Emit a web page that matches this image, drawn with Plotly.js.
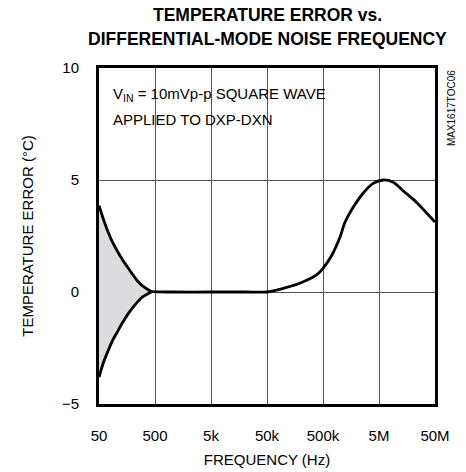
<!DOCTYPE html>
<html>
<head>
<meta charset="utf-8">
<script src="https://cdn.plot.ly/plotly-3.0.1.min.js"></script>
<style>html,body{margin:0;padding:0;background:#fff;}#chart{width:466px;height:472px;}</style>
</head>
<body>
<div id="chart"></div>
<script>
// Left region: error band at low frequency
var freqLeft = [50, 60, 72, 88, 108, 133, 163, 200, 246, 300, 372, 428];
var upperLeft = [3.85, 3.25, 2.7, 2.2, 1.8, 1.42, 1.1, 0.78, 0.48, 0.27, 0.11, 0.02];
var lowerLeft = [-3.8, -3.15, -2.65, -2.15, -1.75, -1.35, -1.0, -0.7, -0.43, -0.22, -0.08, 0.0];
// Right region: single curve
var freqRight = [1000, 5000, 20000, 50000, 84500, 192000, 383000, 500000, 710000, 1000000, 1230000, 1730000, 2600000, 3930000, 5940000, 8970000, 13600000, 23500000, 50000000];
var curveRight = [0, 0, 0, 0.0, 0.12, 0.39, 0.76, 1.06, 1.62, 2.43, 3.1, 3.78, 4.41, 4.85, 5.0, 4.9, 4.51, 4.0, 3.12];
var tickVals = [50, 500, 5000, 50000, 500000, 5000000, 50000000];
var tickText = ['50', '500', '5k', '50k', '500k', '5M', '50M'];
var yTicks = [-5, 0, 5, 10];
var titleLines = ['TEMPERATURE ERROR vs.', 'DIFFERENTIAL-MODE NOISE FREQUENCY'];

var font = 'Arial, "Liberation Sans", sans-serif';

var traces = [
  {x: freqLeft, y: lowerLeft, mode: 'lines', line: {color: '#000', width: 2.8, shape: 'spline', smoothing: 0.8}, hoverinfo: 'skip'},
  {x: freqLeft, y: upperLeft, mode: 'lines', fill: 'tonexty', fillcolor: '#dcdcde', line: {color: '#000', width: 2.8, shape: 'spline', smoothing: 0.8}, hoverinfo: 'skip'},
  {x: [freqLeft[freqLeft.length - 1]].concat(freqRight), y: [upperLeft[upperLeft.length - 1]].concat(curveRight), mode: 'lines', line: {color: '#000', width: 2.8, shape: 'spline', smoothing: 0.8}, hoverinfo: 'skip'}
];

var layout = {
  width: 466, height: 472,
  margin: {l: 99, r: 31, t: 68, b: 68},
  paper_bgcolor: '#fff', plot_bgcolor: '#fff',
  showlegend: false,
  font: {family: font, size: 15, color: '#000'},
  xaxis: {
    type: 'log',
    range: [Math.log10(50), Math.log10(50000000)],
    tickvals: tickVals, ticktext: tickText,
    ticks: '', ticklabelstandoff: 16,
    showgrid: true, gridcolor: '#555', gridwidth: 1,
    showline: true, mirror: true, linecolor: '#000', linewidth: 3,
    zeroline: false,
    tickfont: {family: font, size: 15, color: '#000'},
    title: {text: 'FREQUENCY (Hz)', font: {family: font, size: 15, color: '#000'}, standoff: 12}
  },
  yaxis: {
    range: [-5, 10],
    tickvals: yTicks,
    ticks: '', ticklabelstandoff: 14,
    showgrid: true, gridcolor: '#555', gridwidth: 1,
    showline: true, mirror: true, linecolor: '#000', linewidth: 3,
    zeroline: false,
    tickfont: {family: font, size: 15, color: '#000'},
    title: {text: 'TEMPERATURE ERROR (°C)', font: {family: font, size: 15, color: '#000'}, standoff: 25}
  },
  annotations: [
    {text: '<b>' + titleLines[0] + '</b>', xref: 'paper', yref: 'paper', x: 0.5, y: 1.158, xanchor: 'center', yanchor: 'middle', showarrow: false, font: {family: font, size: 17.5, color: '#000'}},
    {text: '<b>' + titleLines[1] + '</b>', xref: 'paper', yref: 'paper', x: 0.5, y: 1.086, xanchor: 'center', yanchor: 'middle', showarrow: false, font: {family: font, size: 17.5, color: '#000'}},
    {text: 'V<sub>IN</sub> = 10mVp-p SQUARE WAVE', xref: 'paper', yref: 'paper', x: 0.037, y: 0.92, xanchor: 'left', yanchor: 'middle', showarrow: false, font: {family: font, size: 15, color: '#000'}},
    {text: 'APPLIED TO DXP-DXN', xref: 'paper', yref: 'paper', x: 0.037, y: 0.848, xanchor: 'left', yanchor: 'middle', showarrow: false, font: {family: font, size: 15, color: '#000'}},
    {text: 'MAX1617TOC06', xref: 'paper', yref: 'paper', x: 1.05, y: 0.88, xanchor: 'center', yanchor: 'middle', textangle: -90, showarrow: false, font: {family: font, size: 10, color: '#000'}}
  ]
};

Plotly.newPlot('chart', traces, layout, {staticPlot: true, displayModeBar: false});
</script>
</body>
</html>
